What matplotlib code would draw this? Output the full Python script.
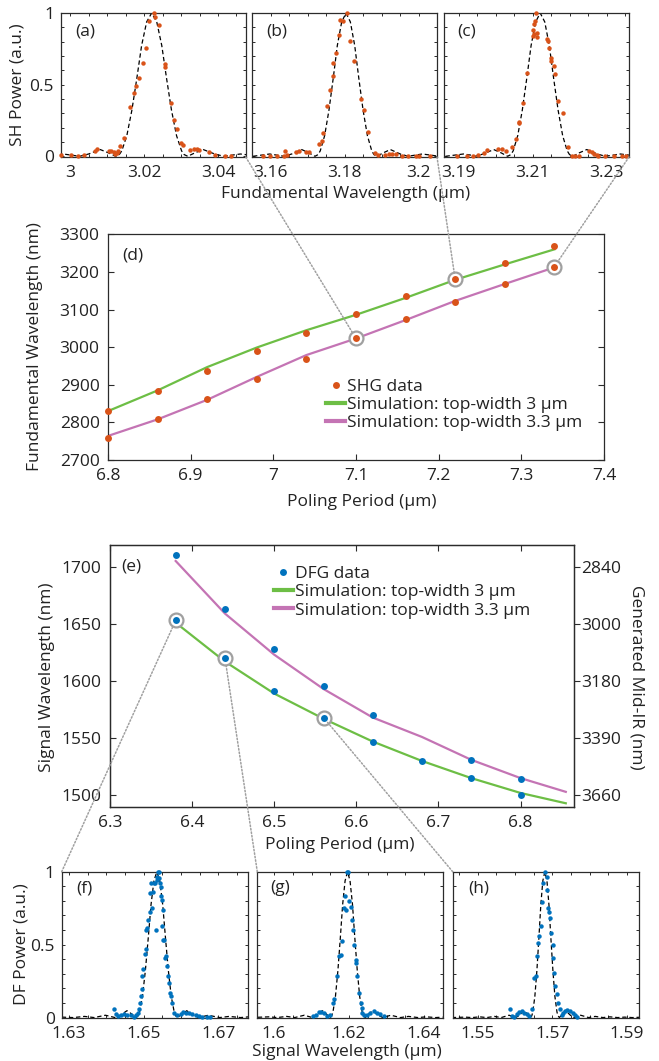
import matplotlib
matplotlib.use('Agg')
import matplotlib.pyplot as plt
from matplotlib.patches import ConnectionPatch
from matplotlib.ticker import MultipleLocator
from matplotlib.lines import Line2D

plt.rcParams['font.family'] = ['Open Sans', 'DejaVu Sans']
FS = 12.5

ORANGE = '#D95319'
BLUE = '#0072BD'
GREEN = '#6DBE45'
MAGENTA = '#C474B4'
GRAY = '#A0A0A0'
SPINE = '#2b2b2b'

# ---------------- (a) ----------------
a_wl = [2.99756, 3.00027, 3.00199, 3.00362, 3.00679, 3.00733, 3.01041, 3.01113, 3.01176, 3.01222,
        3.01267, 3.01294, 3.01357, 3.01466, 3.01629, 3.01719, 3.01783, 3.01864, 3.01973, 3.02045,
        3.02145, 3.02281, 3.0229, 3.02398, 3.02552, 3.02561, 3.02733, 3.02814, 3.02896, 3.02986,
        3.03059, 3.0324, 3.03348, 3.03421, 3.03484, 3.03756, 3.0391, 3.04181, 3.04344]
a_pw = [0.007, 0.007, 0.005, 0.007, 0.037, 0.049, 0.037, 0.037, 0.03, 0.014,
        0.023, 0.037, 0.074, 0.13, 0.341, 0.443, 0.494, 0.545, 0.65, 0.756,
        0.947, 0.998, 0.974, 0.919, 0.645, 0.622, 0.374, 0.255, 0.193, 0.095,
        0.077, 0.042, 0.049, 0.053, 0.042, 0.028, 0.007, 0.0, 0.0]
a_sim_wl = [2.99670, 2.99807, 3.00060, 3.00255, 3.00499, 3.00811, 3.01035, 3.01230, 3.01328, 3.01396,
            3.01532, 3.01669, 3.01805, 3.01932, 3.02069, 3.02205, 3.02342, 3.02478, 3.02605, 3.02741,
            3.02878, 3.03014, 3.03083, 3.03180, 3.03375, 3.03599, 3.03911, 3.04155, 3.04350, 3.04604,
            3.04838]
a_sim_pw = [0.013, 0.016, 0.007, 0.0, 0.016, 0.047, 0.024, 0.0, 0.012, 0.038,
            0.144, 0.322, 0.548, 0.773, 0.938, 1.0, 0.938, 0.773, 0.548, 0.322,
            0.144, 0.038, 0.012, 0.0, 0.024, 0.047, 0.016, 0.0, 0.007, 0.016,
            0.009]

# ---------------- (b) ----------------
b_wl = [3.15805, 3.15986, 3.16168, 3.16373, 3.16392, 3.16438, 3.16689, 3.16778, 3.16959, 3.17049,
        3.17319, 3.17384, 3.17427, 3.17519, 3.17608, 3.17681, 3.17697, 3.1777, 3.1786, 3.17878,
        3.17951, 3.18076, 3.18149, 3.18257, 3.18446, 3.18535, 3.18627, 3.18824, 3.18914, 3.19095,
        3.19211, 3.19276, 3.19392, 3.19546, 3.19724, 3.19932, 3.20022, 3.20311]
b_pw = [0.0, 0.0, 0.0, 0.0, 0.037, 0.007, 0.03, 0.037, 0.033, 0.03,
        0.083, 0.104, 0.165, 0.348, 0.464, 0.557, 0.65, 0.719, 0.849, 0.954,
        0.946, 0.997, 0.802, 0.663, 0.401, 0.325, 0.169, 0.026, 0.012, 0.012,
        0.019, 0.019, 0.014, 0.0, 0.0, 0.0, 0.005, 0.0]
b_sim_wl = [3.15527, 3.15778, 3.15980, 3.16197, 3.16365, 3.16574, 3.16843, 3.17035, 3.17203, 3.17287,
            3.17345, 3.17463, 3.17580, 3.17697, 3.17806, 3.17924, 3.18041, 3.18158, 3.18276, 3.18385,
            3.18502, 3.18619, 3.18737, 3.18795, 3.18879, 3.19047, 3.19239, 3.19508, 3.19717, 3.19885,
            3.20102, 3.20304, 3.20555]
b_sim_pw = [0.0, 0.009, 0.016, 0.007, 0.0, 0.016, 0.047, 0.024, 0.0, 0.012,
            0.038, 0.144, 0.322, 0.548, 0.773, 0.938, 1.0, 0.938, 0.773, 0.548,
            0.322, 0.144, 0.038, 0.012, 0.0, 0.024, 0.047, 0.016, 0.0, 0.007,
            0.016, 0.009, 0.0]

# ---------------- (c) ----------------
c_wl = [3.18942, 3.19213, 3.19393, 3.19528, 3.19681, 3.19771, 3.2005, 3.20159, 3.20267, 3.20447,
        3.20537, 3.20636, 3.20636, 3.20744, 3.20834, 3.21, 3.21014, 3.21032, 3.21059, 3.21086,
        3.21105, 3.21122, 3.21032, 3.21393, 3.21419, 3.21438, 3.21483, 3.21492, 3.21582, 3.216,
        3.2169, 3.21807, 3.2196, 3.22068, 3.2214, 3.22258, 3.22528, 3.22591, 3.22654, 3.22726,
        3.22771, 3.22951, 3.23194, 3.23402, 3.23519]
c_pw = [0.002, 0.0, 0.0, 0.007, 0.023, 0.042, 0.049, 0.049, 0.037, 0.065,
        0.123, 0.232, 0.239, 0.373, 0.58, 0.842, 0.881, 0.923, 0.942, 0.997,
        0.858, 0.83, 0.853, 0.819, 0.807, 0.756, 0.687, 0.668, 0.633, 0.571,
        0.385, 0.302, 0.065, 0.0, 0.0, 0.002, 0.037, 0.03, 0.019, 0.007,
        0.0, 0.0, 0.0, 0.002, 0.0]
c_sim_wl = [3.18640, 3.18916, 3.19127, 3.19356, 3.19440, 3.19660, 3.19944, 3.20144, 3.20320, 3.20408,
            3.20470, 3.20593, 3.20716, 3.20839, 3.20954, 3.21077, 3.21200, 3.21323, 3.21446, 3.21561,
            3.21684, 3.21807, 3.21930, 3.21992, 3.22080, 3.22256, 3.22458, 3.22740, 3.22960, 3.23136,
            3.23365, 3.23576, 3.23600]
c_sim_pw = [0.0, 0.009, 0.016, 0.007, 0.0, 0.016, 0.047, 0.024, 0.0, 0.012,
            0.038, 0.144, 0.322, 0.548, 0.773, 0.938, 1.0, 0.938, 0.773, 0.548,
            0.322, 0.144, 0.038, 0.012, 0.0, 0.024, 0.047, 0.016, 0.0, 0.007,
            0.016, 0.009, 0.008]

# ---------------- (d) ----------------
d_period = [6.8, 6.8, 6.86, 6.86, 6.92, 6.92, 6.98, 6.98, 7.04, 7.04,
            7.1, 7.1, 7.16, 7.16, 7.22, 7.22, 7.28, 7.28, 7.34, 7.34]
d_wl = [2829, 2758, 2883, 2808, 2936, 2862, 2989, 2915, 3038, 2969,
        3088, 3023, 3135, 3075, 3180, 3121, 3224, 3169, 3269, 3214]
d_sim_period = [6.8, 6.86, 6.92, 6.98, 7.04, 7.1, 7.16, 7.22, 7.28, 7.34]
d_sim_w30 = [2830, 2885, 2947, 2999, 3045, 3086, 3131, 3179, 3220, 3260]
d_sim_w33 = [2764, 2808, 2860, 2921, 2979, 3023, 3072, 3123, 3168, 3212]
d_hl_period = [7.1, 7.22, 7.34]
d_hl_wl = [3023, 3180, 3214]

# ---------------- (e) ----------------
e_period = [6.38, 6.38, 6.44, 6.44, 6.5, 6.5, 6.56, 6.56, 6.62, 6.62,
            6.68, 6.74, 6.74, 6.8, 6.8]
e_signal = [1710, 1653, 1663, 1620, 1628, 1591, 1596, 1568, 1570, 1547,
            1530, 1531, 1515, 1514, 1500]
e_sim_period = [6.38, 6.44, 6.5, 6.56, 6.62, 6.68, 6.74, 6.8, 6.855]
e_sim_w30 = [1651, 1617, 1589, 1567, 1547, 1530, 1515, 1502, 1493]
e_sim_w33 = [1705, 1659, 1623, 1593, 1568, 1551, 1531, 1515, 1503]
e_hl_period = [6.38, 6.44, 6.56]
e_hl_signal = [1653, 1620, 1568]
e_right_ticks = [1500, 1550, 1600, 1650, 1700]
e_right_labels = ['3660', '3390', '3180', '3000', '2840']

# ---------------- (f) ----------------
f_wl = [1.64209, 1.64253, 1.64316, 1.64387, 1.64476, 1.64547, 1.64653, 1.64724, 1.64787, 1.64849,
        1.64876, 1.64893, 1.6492, 1.64947, 1.64964, 1.64991, 1.65027, 1.65053, 1.65071, 1.65098,
        1.65116, 1.65169, 1.6516, 1.65187, 1.65231, 1.65258, 1.65276, 1.65293, 1.6532, 1.65347,
        1.65364, 1.65391, 1.65409, 1.65418, 1.65436, 1.65453, 1.65471, 1.65498, 1.65516, 1.65498,
        1.65524, 1.65542, 1.6556, 1.65587, 1.65631, 1.65658, 1.65676, 1.65702, 1.65738, 1.65764,
        1.65809, 1.65898, 1.65987, 1.66058, 1.6612, 1.66209, 1.66298, 1.66387, 1.66476, 1.66564,
        1.6668, 1.66769]
f_pw = [0.057, 0.023, 0.011, 0.016, 0.023, 0.02, 0.018, 0.007, 0.016, 0.034,
        0.057, 0.102, 0.148, 0.193, 0.284, 0.33, 0.439, 0.47, 0.602, 0.611,
        0.67, 0.727, 0.852, 0.92, 0.75, 0.864, 0.925, 0.92, 0.602, 0.943,
        0.966, 1.0, 0.995, 0.955, 0.92, 0.898, 0.83, 0.807, 0.739, 0.625,
        0.534, 0.53, 0.409, 0.42, 0.352, 0.284, 0.239, 0.17, 0.148, 0.102,
        0.034, 0.018, 0.027, 0.039, 0.034, 0.03, 0.023, 0.016, 0.011, 0.007,
        0.007, 0.007]
f_sim_wl = [1.62802, 1.63110, 1.63412, 1.63670, 1.63838, 1.63972, 1.64118, 1.64230, 1.64370, 1.64549,
            1.64678, 1.64790, 1.64846, 1.64885, 1.64964, 1.65042, 1.65120, 1.65193, 1.65272, 1.65350,
            1.65428, 1.65507, 1.65580, 1.65658, 1.65736, 1.65815, 1.65854, 1.65910, 1.66022, 1.66151,
            1.66330, 1.66470, 1.66582, 1.66728, 1.66862, 1.67030, 1.67288, 1.67590, 1.67814]
f_sim_pw = [0.003, 0.0, 0.008, 0.0, 0.009, 0.016, 0.007, 0.0, 0.016, 0.047,
            0.024, 0.0, 0.012, 0.038, 0.144, 0.322, 0.548, 0.773, 0.938, 1.0,
            0.938, 0.773, 0.548, 0.322, 0.144, 0.038, 0.012, 0.0, 0.024, 0.047,
            0.016, 0.0, 0.007, 0.016, 0.009, 0.0, 0.008, 0.0, 0.005]

# ---------------- (g) ----------------
g_wl = [1.61026, 1.61105, 1.61184, 1.61263, 1.61342, 1.61421, 1.615, 1.61561, 1.61605, 1.61666,
        1.61718, 1.61782, 1.61808, 1.61868, 1.61895, 1.61929, 1.61955, 1.61982, 1.62, 1.62045,
        1.62071, 1.62105, 1.62132, 1.62176, 1.62192, 1.62218, 1.62263, 1.62308, 1.62334, 1.6235,
        1.62395, 1.62474, 1.62571, 1.62658, 1.62745, 1.62834, 1.62921]
g_pw = [0.01, 0.02, 0.035, 0.04, 0.03, 0.01, 0.02, 0.102, 0.13, 0.284,
        0.42, 0.432, 0.523, 0.75, 0.834, 0.739, 1.0, 1.0, 0.8, 0.757,
        0.67, 0.6, 0.5, 0.398, 0.375, 0.284, 0.17, 0.102, 0.068, 0.03,
        0.016, 0.02, 0.034, 0.045, 0.03, 0.023, 0.011]
g_sim_wl = [1.59563, 1.59859, 1.60080, 1.60334, 1.60550, 1.60691, 1.60804, 1.60926, 1.61020, 1.61138,
            1.61288, 1.61396, 1.61490, 1.61537, 1.61570, 1.61636, 1.61702, 1.61767, 1.61828, 1.61894,
            1.61960, 1.62026, 1.62092, 1.62153, 1.62219, 1.62284, 1.62350, 1.62383, 1.62430, 1.62524,
            1.62632, 1.62783, 1.62900, 1.62994, 1.63116, 1.63229, 1.63370, 1.63586, 1.63840, 1.64061,
            1.64310, 1.64498]
g_sim_pw = [0.002, 0.005, 0.0, 0.008, 0.0, 0.009, 0.016, 0.007, 0.0, 0.016,
            0.047, 0.024, 0.0, 0.012, 0.038, 0.144, 0.322, 0.548, 0.773, 0.938,
            1.0, 0.938, 0.773, 0.548, 0.322, 0.144, 0.038, 0.012, 0.0, 0.024,
            0.047, 0.016, 0.0, 0.007, 0.016, 0.009, 0.0, 0.008, 0.0, 0.005,
            0.0, 0.003]

# ---------------- (h) ----------------
h_wl = [1.55865, 1.55911, 1.55973, 1.56045, 1.56115, 1.56179, 1.5624, 1.56313, 1.56383, 1.56447,
        1.56508, 1.56562, 1.56597, 1.56624, 1.5665, 1.56688, 1.56715, 1.56758, 1.56803, 1.56849,
        1.56865, 1.56892, 1.5691, 1.56937, 1.56964, 1.57009, 1.57026, 1.57044, 1.57071, 1.57117,
        1.57143, 1.57205, 1.57251, 1.57294, 1.57339, 1.57401, 1.57473, 1.57545, 1.57607, 1.57669]
h_pw = [0.061, 0.011, 0.007, 0.023, 0.039, 0.045, 0.03, 0.023, 0.011, 0.057,
        0.273, 0.284, 0.42, 0.511, 0.561, 0.625, 0.795, 0.92, 1.0, 0.966,
        0.875, 0.75, 0.727, 0.682, 0.58, 0.5, 0.409, 0.307, 0.216, 0.159,
        0.1, 0.057, 0.016, 0.03, 0.045, 0.052, 0.045, 0.03, 0.016, 0.007]
h_sim_wl = [1.54304, 1.54667, 1.54850, 1.55057, 1.55240, 1.55451, 1.55630, 1.55747, 1.55841, 1.55942,
            1.56020, 1.56118, 1.56242, 1.56332, 1.56410, 1.56449, 1.56476, 1.56531, 1.56586, 1.56640,
            1.56691, 1.56745, 1.56800, 1.56855, 1.56909, 1.56960, 1.57015, 1.57069, 1.57124, 1.57151,
            1.57190, 1.57268, 1.57358, 1.57483, 1.57580, 1.57658, 1.57759, 1.57853, 1.57970, 1.58149,
            1.58360, 1.58543, 1.58750, 1.58933, 1.59140, 1.59335]
h_sim_pw = [0.0, 0.003, 0.0, 0.005, 0.0, 0.008, 0.0, 0.009, 0.016, 0.007,
            0.0, 0.016, 0.047, 0.024, 0.0, 0.012, 0.038, 0.144, 0.322, 0.548,
            0.773, 0.938, 1.0, 0.938, 0.773, 0.548, 0.322, 0.144, 0.038, 0.012,
            0.0, 0.024, 0.047, 0.016, 0.0, 0.007, 0.016, 0.009, 0.0, 0.008,
            0.0, 0.005, 0.0, 0.003, 0.0, 0.002]

# ================= figure =================
W, H = 659, 1061
fig = plt.figure(figsize=(W / 100, H / 100), dpi=100)


def px_axes(x0, y0, x1, y1):
    return fig.add_axes([x0 / W, 1 - y1 / H, (x1 - x0) / W, (y1 - y0) / H])


def ftext(x, y, s, **kw):
    fig.text(x / W, 1 - y / H, s, ha='center', va='center', fontsize=FS, color='#222', **kw)


def style_spines(ax):
    for s in ax.spines.values():
        s.set_color(SPINE)
        s.set_linewidth(0.9)


def spectrum(ax, wl, pw, swl, spw, color, xlim, xt, xtl, label, ylabels, lpos):
    ax.plot(swl, spw, color='k', lw=0.9, ls=(0, (3.5, 2.2)), zorder=2)
    ax.plot(wl, pw, 'o', color=color, ms=3.2, mec='none', zorder=3, clip_on=False)
    ax.set_xlim(*xlim)
    ax.set_ylim(-0.005, 1.0)
    ax.set_xticks(xt, labels=xtl)
    ax.xaxis.set_minor_locator(MultipleLocator(0.005))
    if ylabels:
        ax.set_yticks([0, 0.5, 1], labels=['0', '0.5', '1'])
    else:
        ax.set_yticks([0, 0.5, 1], labels=['', '', ''])
    ax.yaxis.set_minor_locator(MultipleLocator(0.1))
    ax.tick_params(which='both', direction='in', top=True, right=True, length=2.5,
                   width=0.7, color=SPINE, labelsize=FS, labelcolor='#222')
    ax.tick_params(axis='x', pad=5.5)
    ax.tick_params(axis='y', pad=5)
    ax.text(lpos[0], lpos[1], label, transform=ax.transAxes, fontsize=FS, va='center',
            ha='left', color='#222')
    style_spines(ax)


ax_a = px_axes(61, 13, 245.7, 157)
ax_b = px_axes(252, 13, 437, 157)
ax_c = px_axes(444, 13, 629, 157)
spectrum(ax_a, a_wl, a_pw, a_sim_wl, a_sim_pw, ORANGE, (2.9975, 3.0475),
         [3.0, 3.02, 3.04], ['3', '3.02', '3.04'], '(a)', True, (0.076, 0.87))
spectrum(ax_b, b_wl, b_pw, b_sim_wl, b_sim_pw, ORANGE, (3.155, 3.205),
         [3.16, 3.18, 3.2], ['3.16', '3.18', '3.2'], '(b)', False, (0.079, 0.87))
spectrum(ax_c, c_wl, c_pw, c_sim_wl, c_sim_pw, ORANGE, (3.186, 3.236),
         [3.19, 3.21, 3.23], ['3.19', '3.21', '3.23'], '(c)', False, (0.069, 0.87))
ftext(18, 85, 'SH Power (a.u.)', rotation=90)
ftext(346, 194, 'Fundamental Wavelength (µm)')

# ---- (d) ----
ax_d = px_axes(108, 234.3, 604, 460)
ax_d.plot(d_sim_period, d_sim_w30, color=GREEN, lw=1.6, zorder=2)
ax_d.plot(d_sim_period, d_sim_w33, color=MAGENTA, lw=1.6, zorder=2)
ax_d.plot(d_hl_period, d_hl_wl, 'o', ms=10, mfc='white', mec=GRAY, mew=1.6, zorder=3)
ax_d.plot(d_period, d_wl, 'o', color=ORANGE, ms=5, mec='none', zorder=4, clip_on=False)
ax_d.set_xlim(6.8, 7.4)
ax_d.set_ylim(2700, 3300)
ax_d.set_xticks([6.8, 6.9, 7.0, 7.1, 7.2, 7.3, 7.4], labels=['6.8', '6.9', '7', '7.1', '7.2', '7.3', '7.4'])
ax_d.set_yticks(range(2700, 3301, 100))
ax_d.tick_params(direction='in', right=True, top=False, length=4, width=0.8, color=SPINE,
                 labelsize=FS, pad=6, labelcolor='#222')
style_spines(ax_d)
ax_d.text(0.028, 0.908, '(d)', transform=ax_d.transAxes, fontsize=FS, va='center', ha='left',
          color='#222')
h_d = [Line2D([], [], ls='none', marker='o', color=ORANGE, ms=5, mec='none'),
       Line2D([], [], color=GREEN, lw=3),
       Line2D([], [], color=MAGENTA, lw=3)]
ax_d.legend(h_d, ['SHG data', 'Simulation: top-width 3 µm', 'Simulation: top-width 3.3 µm'],
            loc='upper left', bbox_to_anchor=(0.44, 0.36), frameon=False, fontsize=FS,
            handlelength=1.1, handletextpad=0.1, labelspacing=0.12, borderpad=0, borderaxespad=0,
            labelcolor='#222')
ftext(35, 347, 'Fundamental Wavelength (nm)', rotation=90)
ftext(362, 502, 'Poling Period (µm)')

# ---- (e) ----
ax_e = px_axes(110, 545, 574, 806.7)
ax_e.plot(e_sim_period, e_sim_w30, color=GREEN, lw=1.6, zorder=2)
ax_e.plot(e_sim_period, e_sim_w33, color=MAGENTA, lw=1.6, zorder=2)
ax_e.plot(e_hl_period, e_hl_signal, 'o', ms=10, mfc='white', mec=GRAY, mew=1.6, zorder=3)
ax_e.plot(e_period, e_signal, 'o', color=BLUE, ms=5, mec='none', zorder=4, clip_on=False)
ax_e.set_xlim(6.3, 6.865)
ax_e.set_ylim(1490, 1719)
ax_e.set_xticks([6.3, 6.4, 6.5, 6.6, 6.7, 6.8])
ax_e.set_yticks([1500, 1550, 1600, 1650, 1700])
ax_e.tick_params(direction='in', top=True, right=False, length=4, width=0.8, color=SPINE,
                 labelsize=FS, pad=6, labelcolor='#222')
style_spines(ax_e)
ax_e2 = ax_e.twinx()
ax_e2.set_ylim(1490, 1719)
ax_e2.set_yticks(e_right_ticks, labels=e_right_labels)
ax_e2.tick_params(direction='out', length=4, width=0.8, color=SPINE, labelsize=FS, pad=1,
                  labelcolor='#222')
style_spines(ax_e2)
ax_e.text(0.025, 0.917, '(e)', transform=ax_e.transAxes, fontsize=FS, va='center', ha='left',
          color='#222')
h_e = [Line2D([], [], ls='none', marker='o', color=BLUE, ms=5, mec='none'),
       Line2D([], [], color=GREEN, lw=3),
       Line2D([], [], color=MAGENTA, lw=3)]
ax_e.legend(h_e, ['DFG data', 'Simulation: top-width 3 µm', 'Simulation: top-width 3.3 µm'],
            loc='upper left', bbox_to_anchor=(0.353, 0.92), frameon=False, fontsize=FS,
            handlelength=1.1, handletextpad=0.1, labelspacing=0.12, borderpad=0, borderaxespad=0,
            labelcolor='#222')
ftext(47, 677, 'Signal Wavelength (nm)', rotation=90)
ftext(636, 677, 'Generated Mid-IR (nm)', rotation=270)
ftext(340, 845, 'Poling Period (µm)')

# ---- (f)(g)(h) ----
ax_f = px_axes(61.7, 871.7, 248.3, 1018.3)
ax_g = px_axes(257.3, 871.7, 442.7, 1018.3)
ax_h = px_axes(452.7, 871.7, 639.3, 1018.3)
spectrum(ax_f, f_wl, f_pw, f_sim_wl, f_sim_pw, BLUE, (1.628, 1.678),
         [1.63, 1.65, 1.67], ['1.63', '1.65', '1.67'], '(f)', True, (0.077, 0.887))
spectrum(ax_g, g_wl, g_pw, g_sim_wl, g_sim_pw, BLUE, (1.5955, 1.645),
         [1.6, 1.62, 1.64], ['1.6', '1.62', '1.64'], '(g)', False, (0.072, 0.887))
spectrum(ax_h, h_wl, h_pw, h_sim_wl, h_sim_pw, BLUE, (1.5433, 1.5933),
         [1.55, 1.57, 1.59], ['1.55', '1.57', '1.59'], '(h)', False, (0.084, 0.887))
ftext(22, 944, 'DF Power (a.u.)', rotation=90)
ftext(347, 1052, 'Signal Wavelength (µm)')

# ---- dotted connectors ----
for axs, px, wl in zip([ax_a, ax_b, ax_c], d_hl_period, d_hl_wl):
    con = ConnectionPatch(xyA=(1, 0), coordsA=axs.transAxes, xyB=(px, wl), coordsB=ax_d.transData,
                          color=GRAY, lw=1.1, ls=(0, (1, 1.3)), shrinkB=4.5, zorder=10)
    fig.add_artist(con)
for axs, px, sg in zip([ax_f, ax_g, ax_h], e_hl_period, e_hl_signal):
    con = ConnectionPatch(xyA=(0, 1), coordsA=axs.transAxes, xyB=(px, sg), coordsB=ax_e.transData,
                          color=GRAY, lw=1.1, ls=(0, (1, 1.3)), shrinkB=4.5, zorder=10)
    fig.add_artist(con)

fig.savefig('out.png', dpi=100)
